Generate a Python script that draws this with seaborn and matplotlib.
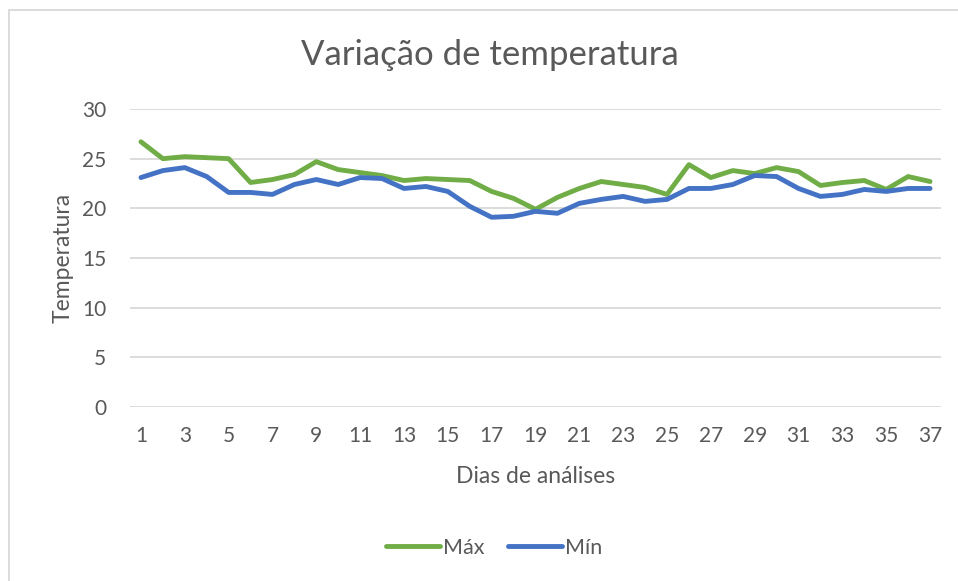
import numpy as np
import pandas as pd
import matplotlib
matplotlib.use("Agg")
import matplotlib.pyplot as plt
import seaborn as sns
from matplotlib.patches import Rectangle
from matplotlib.lines import Line2D

dias = list(range(1, 38))
maxima = [26.7, 25.0, 25.2, 25.1, 25.0, 22.6, 22.9, 23.4, 24.7, 23.9, 23.6, 23.3,
          22.8, 23.0, 22.9, 22.8, 21.7, 21.0, 19.9, 21.1, 22.0, 22.7, 22.4, 22.1,
          21.4, 24.4, 23.1, 23.8, 23.5, 24.1, 23.7, 22.3, 22.6, 22.8, 21.9, 23.2, 22.7]
minima = [23.1, 23.8, 24.1, 23.2, 21.6, 21.6, 21.4, 22.4, 22.9, 22.4, 23.1, 23.0,
          22.0, 22.2, 21.7, 20.2, 19.1, 19.2, 19.7, 19.5, 20.5, 20.9, 21.2, 20.7,
          20.9, 22.0, 22.0, 22.4, 23.3, 23.2, 22.0, 21.2, 21.4, 21.9, 21.7, 22.0, 22.0]
series = ["Máx", "Mín"]
colors = ["#70AD47", "#4472C4"]
yticks = [0, 5, 10, 15, 20, 25, 30]
xticks = list(range(1, 38, 2))

df = pd.DataFrame({
    "Dia": dias * 2,
    "Temperatura": maxima + minima,
    "Série": [series[0]] * len(dias) + [series[1]] * len(dias),
})

sns.set_style("white")
plt.rcParams["font.family"] = ["Lato", "DejaVu Sans"]
text_color = "#595959"

fig = plt.figure(figsize=(9.58, 5.81), dpi=100)
ax = fig.add_axes([130 / 958, 1 - 407 / 581, (941 - 130) / 958, (407 - 109) / 581])

sns.lineplot(data=df, x="Dia", y="Temperatura", hue="Série",
             palette=dict(zip(series, colors)), linewidth=3.5, ax=ax,
             legend=False)
for line in ax.lines:
    line.set_solid_capstyle("round")
    line.set_solid_joinstyle("round")

ax.set_xlim(0.5, 37.5)
ax.set_ylim(0, 30)
ax.set_yticks(yticks)
ax.set_xticks(xticks)
ax.set_xticklabels([str(x) for x in xticks])
ax.yaxis.grid(True, color="#D9D9D9", linewidth=1.3)
ax.set_axisbelow(True)
for s in ax.spines.values():
    s.set_visible(False)
ax.tick_params(axis="both", length=0, labelsize=15, colors=text_color)
ax.tick_params(axis="y", pad=17)
ax.tick_params(axis="x", pad=14)
ax.set_xlabel("Dias de análises", fontsize=16.5, color=text_color, labelpad=14)
ax.set_ylabel("Temperatura", fontsize=16.5, color=text_color, labelpad=6)

fig.text(490 / 958, 1 - 55 / 581, "Variação de temperatura", ha="center", va="center",
         fontsize=25, color=text_color)

handles = [Line2D([0], [0], color=c, linewidth=3.5, solid_capstyle="round") for c in colors]
fig.legend(handles, series, loc="center", bbox_to_anchor=(494 / 958, 1 - 548 / 581),
           ncol=2, frameon=False, fontsize=15.5, labelcolor=text_color,
           handlelength=2.5, handletextpad=0.15, columnspacing=1.1)

fig.patches.append(Rectangle((9 / 958, -0.1), 1.2, 1 - 10 / 581 + 0.1,
                             transform=fig.transFigure, fill=False,
                             edgecolor="#D9D9D9", linewidth=1.3))

fig.savefig("out.png", dpi=100, facecolor="white")
